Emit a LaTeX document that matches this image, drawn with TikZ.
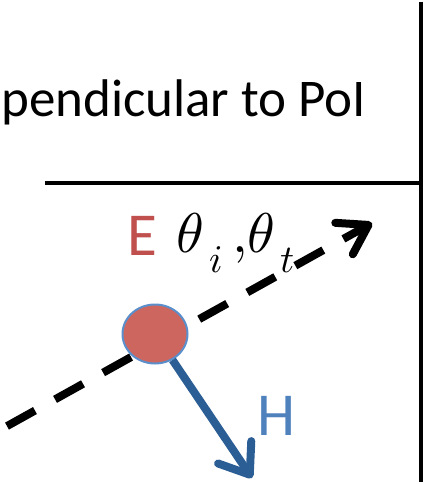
\documentclass[tikz,border=0pt]{standalone}
\usepackage{fontspec}
\usepackage{unicode-math}
\setmainfont{Carlito}
\setmathfont{Latin Modern Math}
\usetikzlibrary{arrows.meta,shapes.geometric}
\definecolor{eRed}{RGB}{192,80,77}
\definecolor{chargeFill}{RGB}{204,102,95}
\definecolor{rimBlue}{RGB}{91,143,203}
\definecolor{hBlue}{RGB}{44,94,150}
\definecolor{hLabel}{RGB}{79,129,189}
\newcommand{\lowsub}[1]{\raisebox{-7pt}{$\scriptstyle #1$}}
\begin{document}
\begin{tikzpicture}[x=1pt, y=-1pt,
  wall/.style={line width=4.5pt, black},
  wave/.style={line width=8pt, dash pattern=on 32pt off 23pt, dash phase=47pt,
    -{Straight Barb[length=28pt,width=36pt,round]}},
  field/.style={line width=8pt, hBlue, -{Straight Barb[length=27pt,width=40pt,round]}},
  biglabel/.style={font=\fontsize{61}{66}\selectfont, inner sep=0pt, anchor=base west}]
  \useasboundingbox (0,0) rectangle (426,484);
  \clip (0,0) rectangle (426,484);

  % interface (walls)
  \draw[wall] (421,2) -- (421,482);
  \draw[wall] (45,183) -- (421,183);
  \node[font=\fontsize{53}{58}\selectfont, inner sep=0pt, anchor=base west] (title) at (1,117) {pendicular to PoI};

  % incoming wave
  \coordinate (waveStart) at (0,430);
  \coordinate (waveTip) at (372,223);
  \draw[wave] (waveStart) -- (waveTip);

  % angles and E label
  \node[biglabel, text=eRed] (elabel) at (127,255) {E};
  \node[font=\fontsize{56}{60}\selectfont, inner sep=0pt, anchor=base west] (angles) at (176,252) {$\theta_{\,\lowsub{i}}\,{,}\theta_{\,\lowsub{t}}$};

  % charge and H field
  \node[ellipse, draw=rimBlue, line width=2pt, fill=chargeFill, minimum width=65pt, minimum height=59pt, inner sep=0pt] (charge) at (155,334) {};
  \coordinate (hTip) at (252,478);
  \draw[field] (charge) -- (hTip);
  \node[biglabel, text=hLabel] (hlabel) at (257,435) {H};
\end{tikzpicture}
\end{document}
